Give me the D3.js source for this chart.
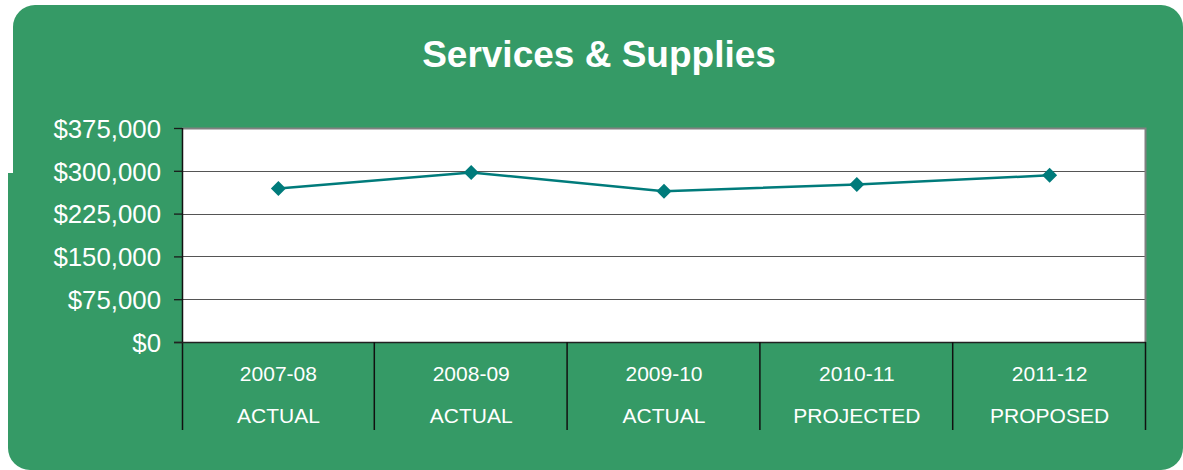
<!DOCTYPE html>
<html>
<head>
<meta charset="utf-8">
<script src="https://cdn.jsdelivr.net/npm/d3@7"></script>
<style>
  html, body { margin: 0; padding: 0; background: #ffffff; }
  svg { display: block; font-family: "Liberation Sans", Arial, sans-serif; }
</style>
</head>
<body>
<svg id="chart" width="1183" height="470"></svg>
<script>
// Fiscal years and their budget status
const years = ["2007-08", "2008-09", "2009-10", "2010-11", "2011-12"];
const statuses = ["ACTUAL", "ACTUAL", "ACTUAL", "PROJECTED", "PROPOSED"];
// Services & supplies spending, dollars
const spending = [269000, 297000, 264000, 276000, 292000];
// Value axis ticks
const yTicks = [0, 75000, 150000, 225000, 300000, 375000];

const green = "#359a66";
const teal = "#007b7b";

const svg = d3.select("#chart");

// Rounded green panel, with a small step on the left edge
const panel = d3.path();
const r = 22;
panel.moveTo(13 + r, 5);
panel.lineTo(1183 - r, 5);
panel.arcTo(1183, 5, 1183, 5 + r, r);
panel.lineTo(1183, 470 - r);
panel.arcTo(1183, 470, 1183 - r, 470, r);
panel.lineTo(8 + r, 470);
panel.arcTo(8, 470, 8, 470 - r, r);
panel.lineTo(8, 173);
panel.lineTo(13, 173);
panel.lineTo(13, 5 + r);
panel.arcTo(13, 5, 13 + r, 5, r);
panel.closePath();
svg.append("path").attr("d", panel.toString()).attr("fill", green);

// Title
svg.append("text")
  .attr("x", 599).attr("y", 67)
  .attr("text-anchor", "middle")
  .attr("fill", "#ffffff")
  .attr("font-weight", "bold")
  .attr("font-size", 37)
  .text("Services & Supplies");

const plot = { left: 182, right: 1146, top: 128, bottom: 342 };

const x = d3.scaleBand().domain(years).range([plot.left, plot.right]).padding(0);
const y = d3.scaleLinear().domain([0, 375000]).range([plot.bottom, plot.top]);

// Plot background
svg.append("rect")
  .attr("x", plot.left).attr("y", plot.top)
  .attr("width", plot.right - plot.left).attr("height", plot.bottom - plot.top)
  .attr("fill", "#ffffff");

// Horizontal gridlines
svg.append("g")
  .selectAll("line")
  .data(yTicks.filter(d => d > 0 && d < 375000))
  .join("line")
  .attr("x1", plot.left).attr("x2", plot.right)
  .attr("y1", d => Math.round(y(d)) + 0.5).attr("y2", d => Math.round(y(d)) + 0.5)
  .attr("stroke", "#555555").attr("stroke-width", 1.2);

// Plot border (top and right)
svg.append("path")
  .attr("d", `M${plot.left},${plot.top + 0.5}H${plot.right - 0.5}V${plot.bottom}`)
  .attr("fill", "none").attr("stroke", "#808080").attr("stroke-width", 2);

// Value axis
const yAxis = svg.append("g")
  .attr("transform", `translate(${plot.left},0)`)
  .call(d3.axisLeft(y).tickValues(yTicks).tickSize(8).tickPadding(13)
    .tickFormat(d => "$" + d3.format(",")(d)));
yAxis.select(".domain").remove();
yAxis.selectAll(".tick line").attr("stroke", "#1a1a1a").attr("stroke-width", 1.3);
yAxis.selectAll(".tick text")
  .attr("fill", "#ffffff").attr("font-size", 25.8)
  .attr("font-family", "'Liberation Sans', Arial, sans-serif")
  .attr("dy", "0.36em");

// Left axis line extending down through the category table
svg.append("line")
  .attr("x1", plot.left + 0.5).attr("x2", plot.left + 0.5)
  .attr("y1", plot.top).attr("y2", 430)
  .attr("stroke", "#111111").attr("stroke-width", 1.5);

// Category axis line
svg.append("line")
  .attr("x1", plot.left - 8).attr("x2", plot.right)
  .attr("y1", plot.bottom + 0.5).attr("y2", plot.bottom + 0.5)
  .attr("stroke", "#222222").attr("stroke-width", 1.5);

// Category separators
svg.append("g")
  .selectAll("line")
  .data(years)
  .join("line")
  .attr("x1", d => x(d) + x.bandwidth() - 0.5).attr("x2", d => x(d) + x.bandwidth() - 0.5)
  .attr("y1", plot.bottom).attr("y2", 430)
  .attr("stroke", "#111111").attr("stroke-width", 1.5);

// Category labels: year and status
const cat = svg.append("g")
  .selectAll("g")
  .data(years)
  .join("g")
  .attr("transform", d => `translate(${x(d) + x.bandwidth() / 2},0)`);
cat.append("text")
  .attr("y", 381).attr("text-anchor", "middle")
  .attr("fill", "#ffffff").attr("font-size", 21)
  .text(d => d);
cat.append("text")
  .attr("y", 423).attr("text-anchor", "middle")
  .attr("fill", "#ffffff").attr("font-size", 21)
  .text((d, i) => statuses[i]);

// Spending line
const pts = years.map((yr, i) => [x(yr) + x.bandwidth() / 2, y(spending[i])]);
svg.append("path")
  .attr("d", d3.line()(pts))
  .attr("fill", "none").attr("stroke", teal).attr("stroke-width", 2.5);

// Diamond markers
svg.append("g")
  .selectAll("path")
  .data(pts)
  .join("path")
  .attr("transform", d => `translate(${d[0]},${d[1]})`)
  .attr("d", "M0,-7.5L7.5,0L0,7.5L-7.5,0Z")
  .attr("fill", teal);
</script>
</body>
</html>
